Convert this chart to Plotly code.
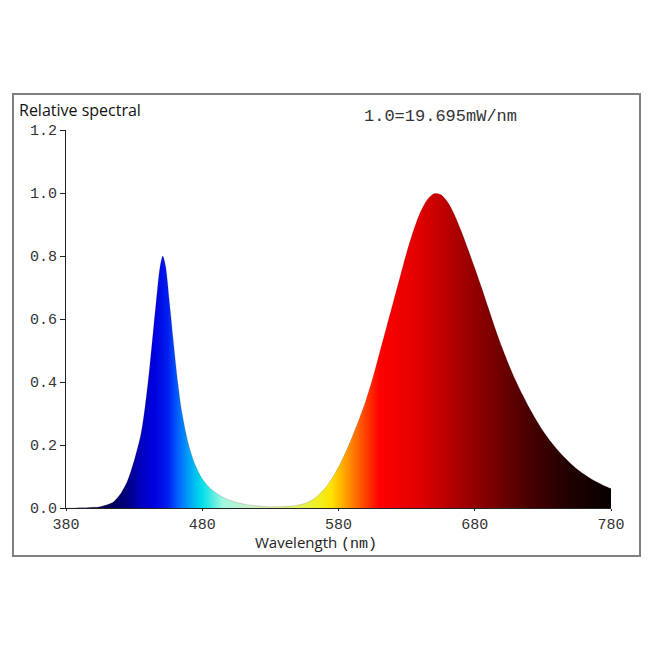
import plotly.graph_objects as go

# Wavelength (nm) and relative spectral power
wavelength = [380, 385, 390, 395, 400, 405, 410, 415, 420, 425, 430, 435, 438, 441, 444, 447,
              449, 451, 453, 456, 459, 462, 465, 470, 475, 480, 485, 490, 495, 500, 505, 510,
              515, 520, 525, 530, 535, 540, 545, 550, 555, 560, 565, 570, 575, 580, 585, 590,
              595, 600, 605, 610, 615, 620, 625, 630, 635, 640, 645, 650, 655, 660, 665, 670,
              675, 680, 685, 690, 695, 700, 705, 710, 715, 720, 725, 730, 735, 740, 745, 750,
              755, 760, 765, 770, 775, 780]
relative = [0.0, 0.0, 0.001, 0.001, 0.002, 0.004, 0.01, 0.02, 0.045, 0.085, 0.15, 0.235, 0.32, 0.43, 0.56, 0.69,
            0.765, 0.80, 0.77, 0.65, 0.52, 0.40, 0.305, 0.20, 0.135, 0.093, 0.066, 0.048, 0.035, 0.025, 0.018, 0.013,
            0.009, 0.007, 0.005, 0.004, 0.004, 0.005, 0.006, 0.009, 0.014, 0.024, 0.04, 0.062, 0.092, 0.13, 0.175, 0.225,
            0.28, 0.34, 0.41, 0.49, 0.57, 0.65, 0.73, 0.81, 0.88, 0.938, 0.978, 0.998, 0.995, 0.972, 0.932, 0.88,
            0.822, 0.762, 0.70, 0.635, 0.57, 0.51, 0.455, 0.405, 0.36, 0.318, 0.28, 0.245, 0.215, 0.188, 0.164, 0.143,
            0.124, 0.108, 0.094, 0.082, 0.071, 0.062]

x_ticks = [380, 480, 580, 680, 780]
y_ticks = [0.0, 0.2, 0.4, 0.6, 0.8, 1.0, 1.2]

# spectrum colour stops (wavelength nm, colour)
spec_nm = [380, 410, 425, 435, 445, 455, 462, 470, 480, 495, 520, 550, 565, 575, 585, 595, 610,
           640, 660, 690, 720, 750, 780]
spec_col = ["#000030", "#000050", "#000080", "#0000c0", "#0000e0", "#0020f0", "#0060ff", "#00a0f8",
            "#00e0e8", "#a0f8e0", "#d0f0c0", "#e0f060", "#f0f020", "#ffe000", "#ffa000", "#ff6000",
            "#ff0000", "#e00000", "#b80000", "#800000", "#480000", "#200000", "#080000"]
colorscale = [[(n - 380) / 400, c] for n, c in zip(spec_nm, spec_col)]

fig = go.Figure()
fig.add_trace(go.Scatter(
    x=wavelength, y=relative, mode="lines", fill="tozeroy",
    fillgradient=dict(type="horizontal", colorscale=colorscale, start=380, stop=780),
    line=dict(color="rgba(40,0,0,0.25)", width=0.6, shape="spline", smoothing=0.8),
    hoverinfo="x+y", showlegend=False,
))

# page body has an 8px offset; compensate so the picture lands where the reference does
OFF = 8
FW, FH = 650 - OFF, 650 - OFF
L, T = 66 - OFF, 130 - OFF
W, H = 545, 378
R = FW - L - W
B = FH - T - H

def px(xp):
    return (xp - 66) / W

def py(yp):
    return (508 - yp) / H

mono = "Liberation Mono, Courier New, monospace"
sans = "Open Sans, Noto Sans, sans-serif"

fig.update_layout(
    width=FW, height=FH,
    margin=dict(l=L, r=R, t=T, b=B, autoexpand=False),
    paper_bgcolor="white", plot_bgcolor="white",
    xaxis=dict(range=[380, 780], tickvals=x_ticks, ticktext=[str(v) for v in x_ticks],
               showline=True, linecolor="#222", linewidth=1, ticks="outside", ticklen=2,
               tickcolor="#222", showgrid=False, zeroline=False,
               tickfont=dict(family=mono, size=15, color="#333")),
    yaxis=dict(range=[0, 1.2], tickvals=y_ticks, ticktext=[f"{v:.1f}" for v in y_ticks],
               showline=True, linecolor="#222", linewidth=1, ticks="outside", ticklen=5,
               tickcolor="#222", showgrid=False, zeroline=False,
               tickfont=dict(family=mono, size=15, color="#333")),
    shapes=[dict(type="rect", xref="paper", yref="paper",
                 x0=px(13), x1=px(640), y0=py(556), y1=py(94),
                 line=dict(color="#808080", width=2), fillcolor="rgba(0,0,0,0)", layer="below")],
    annotations=[
        dict(text="Relative spectral", xref="paper", yref="paper", x=px(17), y=py(110),
             xanchor="left", yanchor="middle", showarrow=False,
             font=dict(family=sans, size=16, color="#111")),
        dict(text="1.0=19.695mW/nm", xref="paper", yref="paper", x=px(362), y=py(117),
             xanchor="left", yanchor="middle", showarrow=False,
             font=dict(family=mono, size=17, color="#333")),
        dict(text="Wavelength <span style='font-family:Liberation Mono'>(nm)</span>",
             xref="paper", yref="paper", x=px(316), y=py(542),
             xanchor="center", yanchor="middle", showarrow=False,
             font=dict(family=sans, size=15, color="#222")),
    ],
)

fig.write_html("out.html")
